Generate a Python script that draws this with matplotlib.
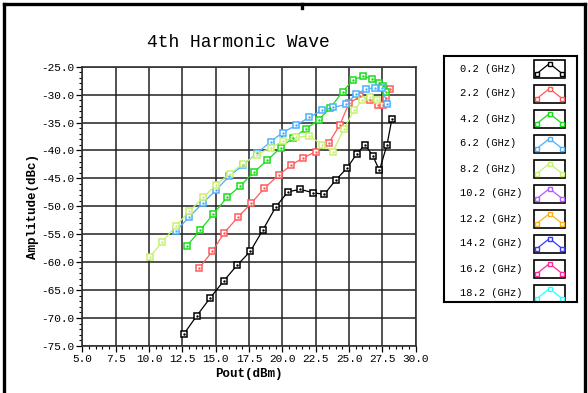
import matplotlib

matplotlib.use("Agg")
import matplotlib.pyplot as plt
from matplotlib.lines import Line2D
from matplotlib.patches import Rectangle
from matplotlib.ticker import MultipleLocator, FormatStrFormatter

MONO = ["Liberation Mono", "DejaVu Sans Mono"]

# measured 4th harmonic level vs output power, one series per frequency
freq_labels = ["0.2 (GHz)", "2.2 (GHz)", "4.2 (GHz)", "6.2 (GHz)", "8.2 (GHz)",
               "10.2 (GHz)", "12.2 (GHz)", "14.2 (GHz)", "16.2 (GHz)", "18.2 (GHz)"]
freq_colors = ["#000000", "#ff5a5a", "#18dd18", "#4ab0ff", "#c8f070",
               "#b25cff", "#ffb020", "#3838ff", "#ff2a9a", "#30ffff"]

pout_02 = [12.6, 13.58, 14.6, 15.62, 16.6, 17.6, 18.52, 19.52, 20.42, 21.34,
           22.27, 23.14, 24.02, 24.85, 25.56, 26.2, 26.78, 27.28, 27.85, 28.21]
amp_02 = [-72.9, -69.6, -66.35, -63.3, -60.55, -58.05, -54.3, -50.06, -47.4, -46.95,
          -47.55, -47.85, -45.25, -43.15, -40.65, -38.95, -40.95, -43.55, -38.95, -34.4]

pout_22 = [13.75, 14.75, 15.65, 16.7, 17.67, 18.65, 19.72, 20.67, 21.54, 22.52,
           23.47, 24.3, 25.0, 25.85, 26.54, 27.14, 27.56, 27.74, 28.07]
amp_22 = [-61.1, -58.05, -54.7, -51.85, -49.45, -46.75, -44.4, -42.6, -41.35, -40.2,
          -38.7, -35.45, -31.55, -30.3, -30.9, -31.8, -31.8, -30.55, -29.05]

pout_42 = [12.84, 13.82, 14.82, 15.85, 16.82, 17.85, 18.87, 19.87, 20.82, 21.79,
           22.72, 23.57, 24.52, 25.29, 26.02, 26.72, 27.26, 27.56, 27.74]
amp_42 = [-57.1, -54.3, -51.4, -48.4, -46.4, -43.9, -41.75, -39.5, -37.7, -36.1,
          -34.5, -32.45, -29.47, -27.4, -26.7, -27.15, -27.85, -28.4, -29.5]

pout_62 = [12.0, 13.02, 14.02, 15.02, 16.02, 17.08, 18.1, 19.13, 20.02, 21.02,
           22.02, 22.97, 23.82, 24.75, 25.51, 26.28, 26.97, 27.45, 27.87]
amp_62 = [-54.45, -51.9, -49.45, -47.1, -44.6, -42.55, -40.5, -38.4, -36.8, -35.5,
          -34.05, -32.8, -32.3, -31.75, -29.95, -28.95, -28.8, -28.8, -31.6]

pout_82 = [10.06, 11.0, 12.05, 13.0, 14.07, 15.05, 16.07, 17.07, 18.07, 19.12,
           20.02, 21.02, 22.02, 22.97, 23.79, 24.62, 25.39, 26.0, 26.6, 27.12]
amp_82 = [-59.1, -56.3, -53.45, -50.9, -48.4, -46.1, -44.15, -42.35, -40.8, -39.5,
          -38.3, -37.65, -37.4, -38.95, -40.2, -36.15, -32.75, -31.0, -30.4, -30.9]

series = [(pout_02, amp_02), (pout_22, amp_22), (pout_42, amp_42),
          (pout_62, amp_62), (pout_82, amp_82)]

fig = plt.figure(figsize=(5.88, 3.93), dpi=100)
ax = fig.add_axes([0.140, 0.1196, 0.567, 0.7107])

for (px, py), col in zip(series, freq_colors):
    ax.plot(px, py, color=col, linewidth=0.9, marker="s", markersize=4.6,
            markerfacecolor="white", markeredgecolor=col, markeredgewidth=1.1, zorder=3)
    ax.plot(px, py, linestyle="none", marker=".", markersize=1.5, color=col, zorder=4)

ax.set_xlim(5, 30)
ax.set_ylim(-75, -25)
ax.xaxis.set_major_locator(MultipleLocator(2.5))
ax.xaxis.set_minor_locator(MultipleLocator(0.5))
ax.yaxis.set_major_locator(MultipleLocator(5))
ax.yaxis.set_minor_locator(MultipleLocator(1))
ax.xaxis.set_major_formatter(FormatStrFormatter("%.1f"))
ax.yaxis.set_major_formatter(FormatStrFormatter("%.1f"))
ax.grid(True, which="major", color="#222222", linewidth=1.1)
ax.tick_params(which="major", direction="out", length=4, width=0.9, pad=2, labelsize=8)
ax.tick_params(which="minor", direction="out", length=2.5, width=0.8)
for lbl in ax.get_xticklabels() + ax.get_yticklabels():
    lbl.set_family(MONO)
for sp in ax.spines.values():
    sp.set_linewidth(1.2)
    sp.set_color("#333333")

ax.set_xlabel("Pout(dBm)", fontsize=9, fontweight="bold", family=MONO, labelpad=3)
ax.set_ylabel("Amplitude(dBc)", fontsize=9, fontweight="bold", family=MONO, labelpad=1)
fig.text(0.405, 0.893, "4th Harmonic Wave", ha="center", va="center",
         fontsize=13, family=MONO)

# legend panel on the right
leg = fig.add_axes([444 / 588, 1 - 302 / 393, 133 / 588, 246 / 393])
leg.set_xlim(0, 133)
leg.set_ylim(246, 0)
leg.set_xticks([])
leg.set_yticks([])
for sp in leg.spines.values():
    sp.set_linewidth(1.5)
for i, (name, col) in enumerate(zip(freq_labels, freq_colors)):
    yc = 12.5 + 25 * i
    leg.text(16, yc, name, ha="left", va="center", fontsize=7.5, family=MONO)
    leg.add_patch(Rectangle((90, yc - 9), 31, 18, fill=False, edgecolor="black", linewidth=1.2))
    sx = [93, 105.5, 118]
    sy = [yc + 5, yc - 5, yc + 5]
    leg.plot(sx, sy, color=col, linewidth=0.9, marker="s", markersize=3.2,
             markerfacecolor="white", markeredgecolor=col, markeredgewidth=1.0)

# outer frame
frame_kw = dict(color="black", linewidth=2.4, transform=fig.transFigure)
fig.add_artist(Line2D([4 / 588, 585 / 588], [1 - 4 / 393, 1 - 4 / 393], **frame_kw))
fig.add_artist(Line2D([4 / 588, 4 / 588], [0, 1 - 4 / 393], **frame_kw))
fig.add_artist(Line2D([585 / 588, 585 / 588], [0, 1 - 4 / 393], **frame_kw))
fig.add_artist(Line2D([302 / 588, 302 / 588], [1 - 4 / 393, 1 - 8 / 393], **frame_kw))

fig.savefig("out.png", dpi=100)
